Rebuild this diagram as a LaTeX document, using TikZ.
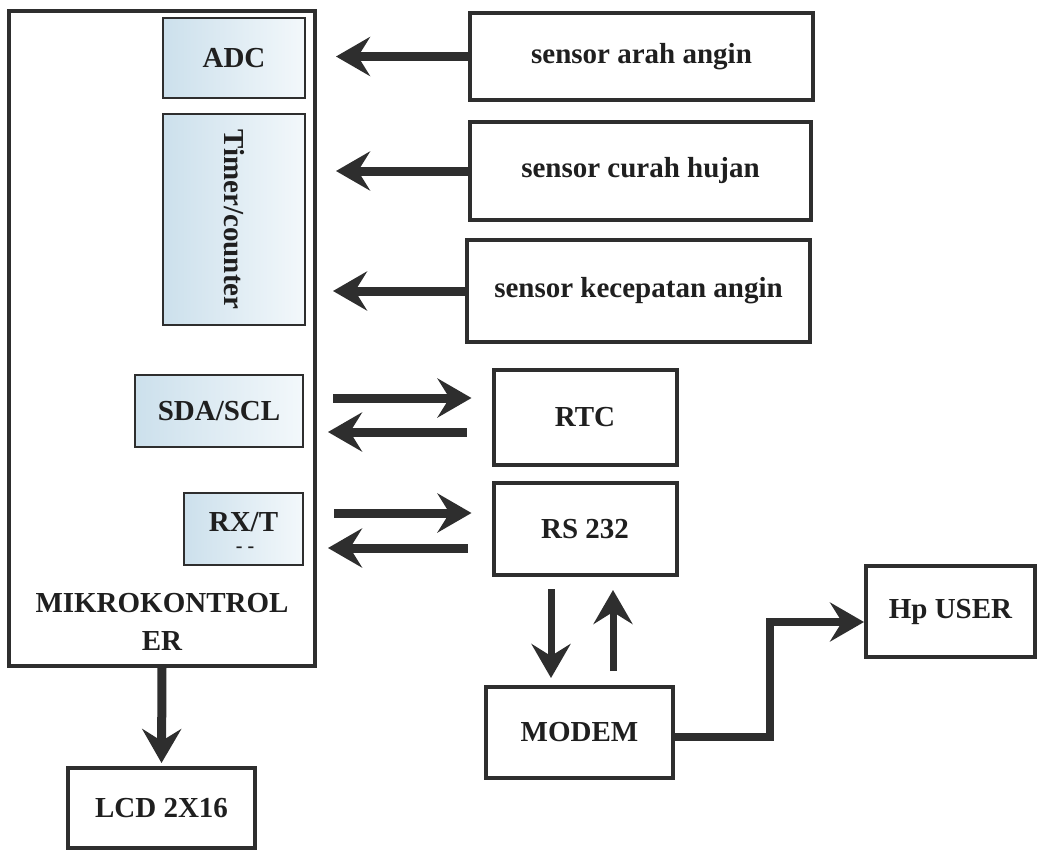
\documentclass[tikz,border=0pt]{standalone}
\usepackage{fontspec}
\setmainfont{Liberation Serif}
\usetikzlibrary{arrows.meta}
\definecolor{ink}{HTML}{2E2E2E}
\definecolor{portA}{HTML}{CCE0EC}
\definecolor{portB}{HTML}{F3F8FB}

\begin{document}
\begin{tikzpicture}[x=1pt,y=-1pt,
  every node/.style={font=\bfseries\fontsize{29}{38}\selectfont, text=black!88},
  blk/.style={draw=ink, line width=4pt, fill=white, inner sep=0pt},
  port/.style={draw=ink, line width=1.8pt, left color=portA, right color=portB, inner sep=0pt},
  bigtip/.tip={Stealth[length=34pt,width=39pt,inset=12pt]},
  arr/.style={draw=ink, line width=9pt, -bigtip},
  arrv/.style={draw=ink, line width=7pt, -bigtip},
]
\path[use as bounding box] (0,0) rectangle (1043,860);

% microcontroller and its ports
\node[blk, minimum width=306pt, minimum height=655pt] (mcu) at (162,338) {};
\node[port, minimum width=142pt, minimum height=80pt] (adc) at (234,58) {ADC};
\node[port, rotate=-90, minimum width=211pt, minimum height=142pt] (timer) at (234,219.5) {Timer/counter};
\node[port, minimum width=168pt, minimum height=72pt] (sda) at (219,411) {SDA/SCL};
\node[port, minimum width=119pt, minimum height=72pt] (rxt) at (243.5,529) {};
\node (rxtlbl) at (243.5,522) {RX/T};
\node[font=\bfseries\fontsize{20}{20}\selectfont] (rxtdash) at (245,550) {- -};
\node[align=center] (mculbl) at (162,622) {MIKROKONTROL\\ER};

% peripherals
\node[blk, minimum width=343pt, minimum height=87pt] (arah) at (641.5,56.5) {sensor arah angin};
\node[blk, minimum width=341pt, minimum height=98pt] (curah) at (640.5,171) {sensor curah hujan};
\node[blk, minimum width=343pt, minimum height=102pt] (kec) at (638.5,291) {sensor kecepatan angin};
\node[blk, minimum width=183pt, minimum height=95pt] (rtc) at (585,417.5) {RTC};
\node[blk, minimum width=183pt, minimum height=92pt] (rs) at (585,529) {RS 232};
\node[blk, minimum width=187pt, minimum height=91pt] (modem) at (579.5,732.5) {MODEM};
\node[blk, minimum width=169pt, minimum height=91pt] (hp) at (950.5,611.5) {Hp USER};
\node[blk, minimum width=187pt, minimum height=80pt] (lcd) at (161.5,808) {LCD 2X16};

% sensor inputs
\draw[arr, shorten >=19pt] (arah.west) -- (mcu.east |- arah.west);
\draw[arr, shorten >=19pt] (curah.west) -- (mcu.east |- curah.west);
\draw[arr, shorten >=16pt] (kec.west) -- (mcu.east |- kec.west);

% I2C link to the RTC
\draw[arr, shorten <=16pt, shorten >=20pt] (mcu.east |- 0,398) -- (rtc.west |- 0,398);
\draw[arr, shorten <=25pt, shorten >=11pt] (rtc.west |- 0,432) -- (mcu.east |- 0,432);

% serial link to the RS 232
\draw[arr, shorten <=17pt, shorten >=20pt] (mcu.east |- 0,513) -- (rs.west |- 0,513);
\draw[arr, shorten <=24pt, shorten >=11pt] (rs.west |- 0,548) -- (mcu.east |- 0,548);

% RS 232 <-> modem
\draw[arrv, shorten <=12pt, shorten >=7pt] (rs.south -| 551,0) -- (modem.north -| 551,0);
\draw[arrv, shorten <=14pt, shorten >=13pt] (modem.north -| 613,0) -- (rs.south -| 613,0);

% modem to the user's phone
\coordinate (bend) at (770,622);
\draw[arr, line width=8pt] (modem.east |- 0,737) -| (bend) -- (hp.west |- bend);

% display
\draw[arr, shorten >=3pt] (mcu.south) -- (lcd.north);
\end{tikzpicture}
\end{document}
